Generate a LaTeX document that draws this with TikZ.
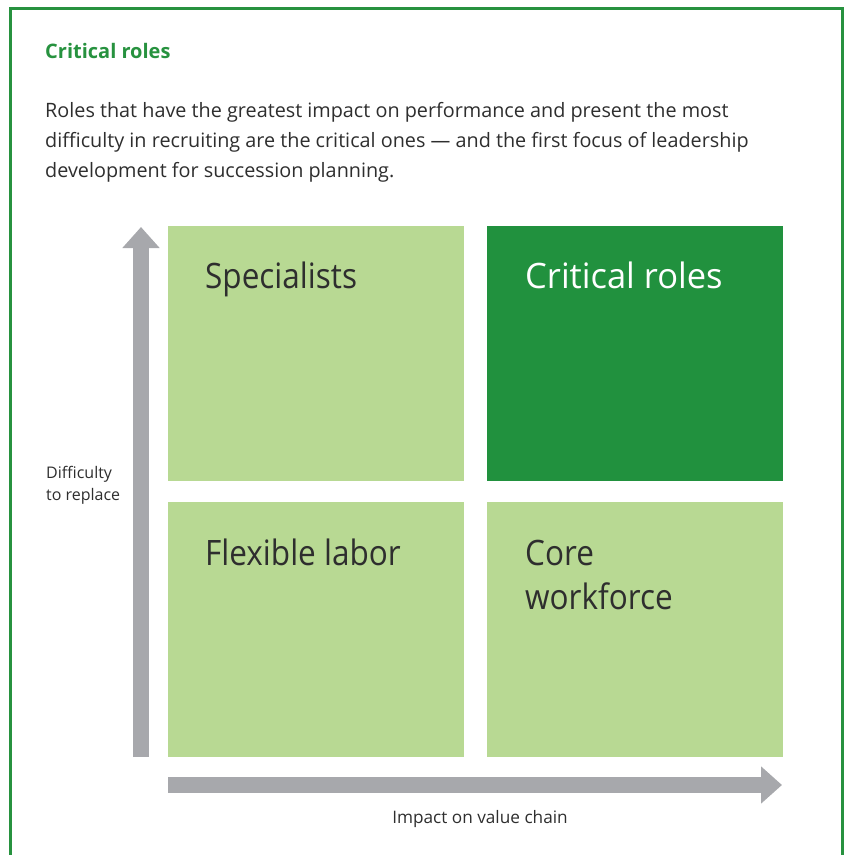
\documentclass[tikz,border=0pt]{standalone}
\usepackage{fontspec}
\setmainfont{Open Sans}
\usetikzlibrary{arrows.meta}
\definecolor{frameg}{HTML}{27923F}
\definecolor{lightg}{HTML}{B8D993}
\definecolor{darkg}{HTML}{21913E}
\definecolor{axisg}{HTML}{A7A8AC}
\definecolor{txt}{HTML}{2E2E2E}
\tikzset{
  quad/.style={fill=lightg, draw=none},
  quadtxt/.style={anchor=base west, inner sep=0pt, text=txt, font=\fontsize{35}{44}\selectfont},
  axis/.style={draw=axisg, line width=16pt, line cap=butt, -{Triangle[length=21pt,width=36pt]}},
  small/.style={anchor=base west, inner sep=0pt, text=txt, font=\fontsize{16}{22}\selectfont},
  bodytxt/.style={anchor=base west, inner sep=0pt, text=txt, font=\fontsize{19.8}{30}\selectfont}
}
\newcommand{\narrow}[1]{\scalebox{0.9}[1]{#1}}
\begin{document}
\begin{tikzpicture}[x=1pt,y=-1pt]
\useasboundingbox (0,0) rectangle (848,855);
% frame
\draw[frameg, line width=3pt] (10,870) -- (10,8) -- (842,8) -- (842,870);
% title and body
\node[anchor=base west, inner sep=0pt, text=frameg, font=\bfseries\fontsize{20}{24}\selectfont] (title) at (45,58) {Critical roles};
\node[bodytxt] (body1) at (45,117) {Roles that have the greatest impact on performance and present the most};
\node[bodytxt] (body2) at (45,147) {difficulty in recruiting are the critical ones — and the first focus of leadership};
\node[bodytxt] (body3) at (45,177) {development for succession planning.};
% quadrants
\fill[quad] (168,226) rectangle (464,481);
\fill[darkg] (487,226) rectangle (783,481);
\fill[quad] (168,502) rectangle (464,757);
\fill[quad] (487,502) rectangle (783,757);
\node[quadtxt] (sptxt) at (205,288) {\narrow{Specialists}};
\node[quadtxt, text=white] (crtxt) at (525,288) {\scalebox{0.985}[1]{Critical roles}};
\node[quadtxt] (fltxt) at (205,565) {\narrow{Flexible labor}};
\node[quadtxt] (cwtxt) at (525,565) {\narrow{Core}};
\node[quadtxt] (cwtxt2) at (525,609) {\narrow{workforce}};
% axes
\coordinate (ybot) at (141,757);
\coordinate (ytop) at (141,227);
\coordinate (xl) at (168,785);
\coordinate (xr) at (782,785);
\draw[axis] (ybot) -- (ytop);
\draw[axis] (xl) -- (xr);
\node[small] (ylab1) at (46,478) {Difficulty};
\node[small] (ylab2) at (46,500) {to replace};
\node[anchor=base, inner sep=0pt, text=txt, font=\fontsize{17.2}{20}\selectfont] (xlab) at (480,823) {Impact on value chain};
\end{tikzpicture}
\end{document}
